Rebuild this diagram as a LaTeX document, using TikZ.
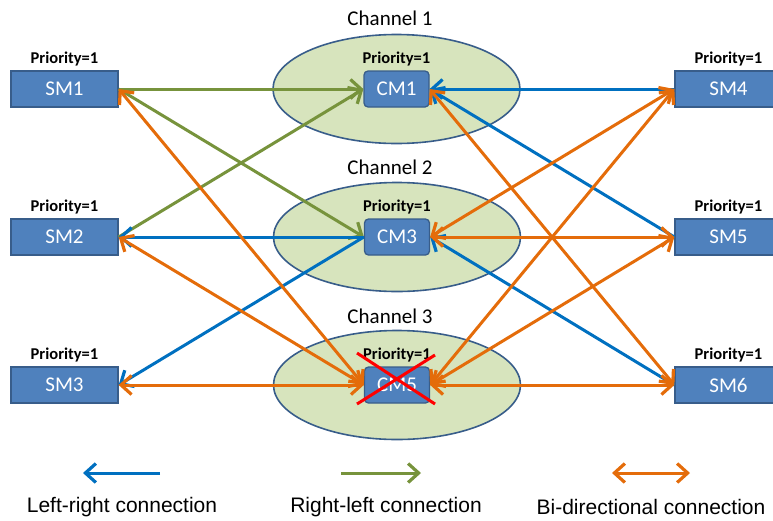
\documentclass[tikz,border=0pt]{standalone}
\usepackage{fontspec}
\setmainfont{Carlito}
\newfontfamily\legendfont{Liberation Sans}
\usetikzlibrary{arrows.meta,shapes.geometric}

\definecolor{boxblue}{HTML}{4F81BD}
\definecolor{boxedge}{HTML}{385D8A}
\definecolor{chanfill}{HTML}{D7E4BD}
\definecolor{linkblue}{HTML}{0070C0}
\definecolor{linkgreen}{HTML}{77933C}
\definecolor{linkorange}{HTML}{E46C0A}

\tikzset{
  smbox/.style={draw=boxedge, fill=boxblue, line width=1.3pt, text=white,
    minimum width=107pt, minimum height=36pt, inner sep=0pt,
    font=\fontsize{21}{21}\selectfont},
  cmbox/.style={smbox, rounded corners=4pt, minimum width=65pt},
  chan/.style={ellipse, draw=boxedge, fill=chanfill, line width=1.6pt,
    minimum width=247pt, minimum height=109pt, inner sep=0pt},
  chanlabel/.style={font=\fontsize{21}{21}\selectfont},
  prio/.style={anchor=base, inner sep=0pt, font=\bfseries\fontsize{16.5}{16.5}\selectfont},
  barb/.tip={Straight Barb[length=10.5pt, width=19pt, line width=3.2pt]},
  link/.style={line width=3pt},
  oneway/.style={link, -barb},
  twoway/.style={link, barb-barb},
  legendtext/.style={font=\legendfont\fontsize{21}{21}\selectfont}
}

\begin{document}
\begin{tikzpicture}[x=1pt, y=-1pt]
  \useasboundingbox (0,0) rectangle (773,520);

  % channels
  \node[chan] (ch1) at (396.5,89) {};
  \node[chan] (ch2) at (397,237) {};
  \node[chan] (ch3) at (397,385) {};
  \node[chanlabel] (ch1t) at (390,18) {Channel 1};
  \node[chanlabel] (ch2t) at (390,167) {Channel 2};
  \node[chanlabel] (ch3t) at (390,316) {Channel 3};

  % service modules, left and right (the right column runs off the edge)
  \node[smbox] (SM1) at (64.5,89) {SM1};
  \node[smbox] (SM2) at (64.5,237) {SM2};
  \node[smbox] (SM3) at (64.5,385) {SM3};
  \node[smbox] (SM4) at (728.5,89) {SM4};
  \node[smbox] (SM5) at (728.5,237) {SM5};
  \node[smbox] (SM6) at (728.5,385) {SM6};

  % channel modules
  \node[cmbox] (CM1) at (396.5,89) {CM1};
  \node[cmbox] (CM3) at (397,237) {CM3};
  \node[cmbox] (CM5) at (397,385) {CM5};

  % priorities
  \foreach \n in {SM1,SM2,SM3,SM4,SM5,SM6,CM1,CM3,CM5}
    \node[prio] (p\n) at ([yshift=7pt]\n.north) {Priority=1};

  % right-left links (green)
  \draw[oneway, linkgreen] (SM1.east) -- (CM1.west);
  \draw[oneway, linkgreen] (SM1.east) -- (CM3.west);
  \draw[oneway, linkgreen] (SM2.east) -- (CM1.west);

  % left-right links (blue)
  \draw[oneway, linkblue] (CM3.west) -- (SM2.east);
  \draw[oneway, linkblue] (CM3.west) -- (SM3.east);
  \draw[oneway, linkblue] (SM4.west) -- (CM1.east);
  \draw[oneway, linkblue] (SM5.west) -- (CM1.east);
  \draw[oneway, linkblue] (SM6.west) -- (CM3.east);

  % bi-directional links (orange)
  \draw[twoway, linkorange] (SM1.east) -- (CM5.west);
  \draw[twoway, linkorange] (SM2.east) -- (CM5.west);
  \draw[twoway, linkorange] (SM3.east) -- (CM5.west);
  \draw[twoway, linkorange] (CM1.east) -- (SM6.west);
  \draw[twoway, linkorange] (CM3.east) -- (SM4.west);
  \draw[twoway, linkorange] (CM3.east) -- (SM5.west);
  \draw[twoway, linkorange] (CM5.east) -- (SM4.west);
  \draw[twoway, linkorange] (CM5.east) -- (SM5.west);
  \draw[twoway, linkorange] (CM5.east) -- (SM6.west);

  % failed module
  \coordinate (x1) at (357,353);
  \coordinate (x2) at (435,404);
  \coordinate (x3) at (357,404);
  \coordinate (x4) at (435,355);
  \draw[line width=3pt, red] (x1) -- (x2);
  \draw[line width=3pt, red] (x3) -- (x4);

  % legend
  \coordinate (lb1) at (160,473);
  \coordinate (lb2) at (83,473);
  \coordinate (lg1) at (341,473);
  \coordinate (lg2) at (421,473);
  \coordinate (lo1) at (612,473);
  \coordinate (lo2) at (690,473);
  \draw[oneway, linkblue] (lb1) -- (lb2);
  \draw[oneway, linkgreen] (lg1) -- (lg2);
  \draw[twoway, linkorange] (lo1) -- (lo2);
  \node[legendtext] (lt1) at (122,507) {Left-right connection};
  \node[legendtext] (lt2) at (386,507) {Right-left connection};
  \node[legendtext] (lt3) at (651,507) {Bi-directional connection};
\end{tikzpicture}
\end{document}
